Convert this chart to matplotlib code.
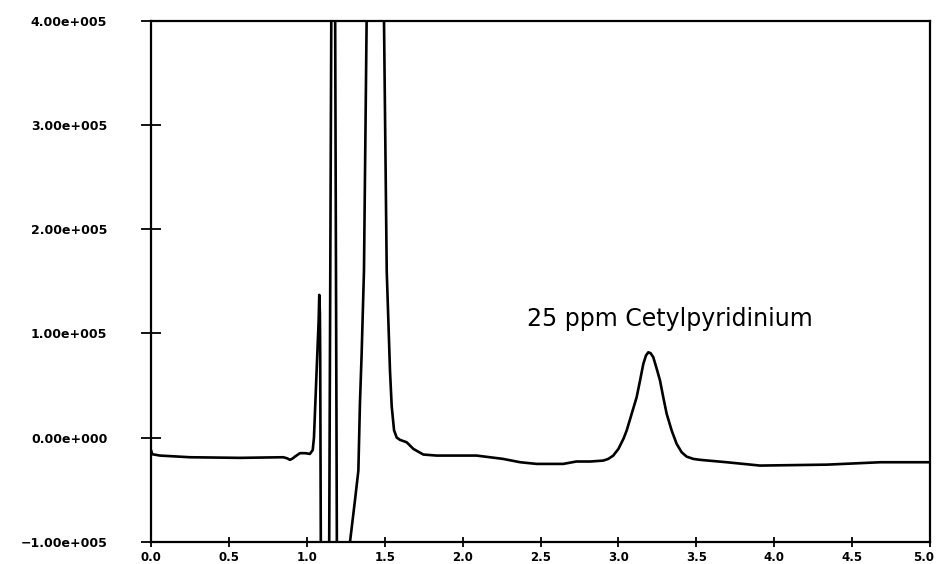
import matplotlib
matplotlib.use("Agg")
import matplotlib.pyplot as plt
from matplotlib.ticker import FixedLocator, FixedFormatter
from matplotlib.transforms import ScaledTranslation

# retention time (min)
time_min = [
    0.000, 0.008, 0.058, 0.25, 0.571, 0.80, 0.849, 0.875, 0.892, 0.91, 0.924, 0.956, 0.99, 1.02,
    1.038, 1.046, 1.063, 1.076, 1.080, 1.084, 1.086, 1.091,
    1.12, 1.1425, 1.1585, 1.181, 1.194, 1.25, 1.270,
    1.277, 1.309, 1.331, 1.341, 1.352, 1.367, 1.384, 1.39, 1.49, 1.4955,
    1.513, 1.534, 1.545, 1.56, 1.577, 1.598, 1.641, 1.684, 1.748, 1.834,
    2.09, 2.26, 2.37, 2.475, 2.646, 2.73, 2.82,
    2.903, 2.935, 2.967, 3.0, 3.032, 3.053, 3.085, 3.117, 3.139, 3.160, 3.177, 3.192,
    3.207, 3.224, 3.246, 3.267, 3.288, 3.310, 3.342, 3.374, 3.406, 3.438, 3.481, 3.524,
    3.695, 3.909, 4.34, 4.68, 5.0,
]

# detector signal
signal = [
    -12000, -16000, -17300, -18900, -19500, -19000, -18900, -20000, -21400, -20000, -18300, -15000, -15000, -15700,
    -12000, 0, 64000, 112000, 137000, 120000, 80000, -150000,
    -150000, -150000, 450000, 450000, -150000, -150000, -110000,
    -100600, -60500, -31700, 32400, 80400, 160400, 400000, 450000, 450000, 400000,
    160000, 64000, 30000, 7000, 0, -2200, -4500, -10900, -16300, -17300,
    -17300, -20500, -23700, -25300, -25300, -23000, -23000,
    -22100, -20500, -17300, -10900, -1300, 6700, 22700, 38700, 54800, 70800, 78800, 81900,
    81000, 77100, 66000, 54800, 38700, 22700, 6700, -6100, -14100, -18300, -20500, -21400,
    -23700, -26900, -26000, -23700, -23700,
]

y_ticks = [-100000, 0, 100000, 200000, 300000, 400000]
y_tick_labels = ["\u22121.00e+005", "0.00e+000", "1.00e+005", "2.00e+005", "3.00e+005", "4.00e+005"]
x_ticks = [0.0, 0.5, 1.0, 1.5, 2.0, 2.5, 3.0, 3.5, 4.0, 4.5, 5.0]
x_tick_labels = ["0.0", "0.5", "1.0", "1.5", "2.0", "2.5", "3.0", "3.5", "4.0", "4.5", "5.0"]
annotation = "25 ppm Cetylpyridinium"

fig = plt.figure(figsize=(9.38, 5.64), dpi=100)
ax = fig.add_axes([151 / 938, 1 - 541.7 / 564, (930 - 151) / 938, (541.7 - 21) / 564])

ax.plot(time_min, signal, color="black", lw=1.9, solid_joinstyle="round", solid_capstyle="round")

ax.set_xlim(0, 5)
ax.set_ylim(-100000, 400000)

ax.xaxis.set_major_locator(FixedLocator(x_ticks))
ax.xaxis.set_major_formatter(FixedFormatter(x_tick_labels))
ax.yaxis.set_major_locator(FixedLocator(y_ticks))
ax.yaxis.set_major_formatter(FixedFormatter(y_tick_labels))

for s in ax.spines.values():
    s.set_linewidth(1.6)
    s.set_color("black")

ax.tick_params(axis="y", direction="inout", length=15, width=1.3, pad=24,
               labelsize=9)
ax.tick_params(axis="x", direction="inout", length=7, width=1.3, pad=3,
               labelsize=8.5)
for lbl in ax.get_xticklabels() + ax.get_yticklabels():
    lbl.set_fontweight("bold")
    lbl.set_family("DejaVu Sans")

ax.text(2.413, 114000, annotation, ha="left", va="center",
        fontsize=17, family="DejaVu Sans", color="black")

fig.canvas.draw()
last = ax.xaxis.get_major_ticks()[-1].label1
last.set_transform(last.get_transform() + ScaledTranslation(-6 / 100, 0, fig.dpi_scale_trans))

fig.savefig("out.png", dpi=100)
